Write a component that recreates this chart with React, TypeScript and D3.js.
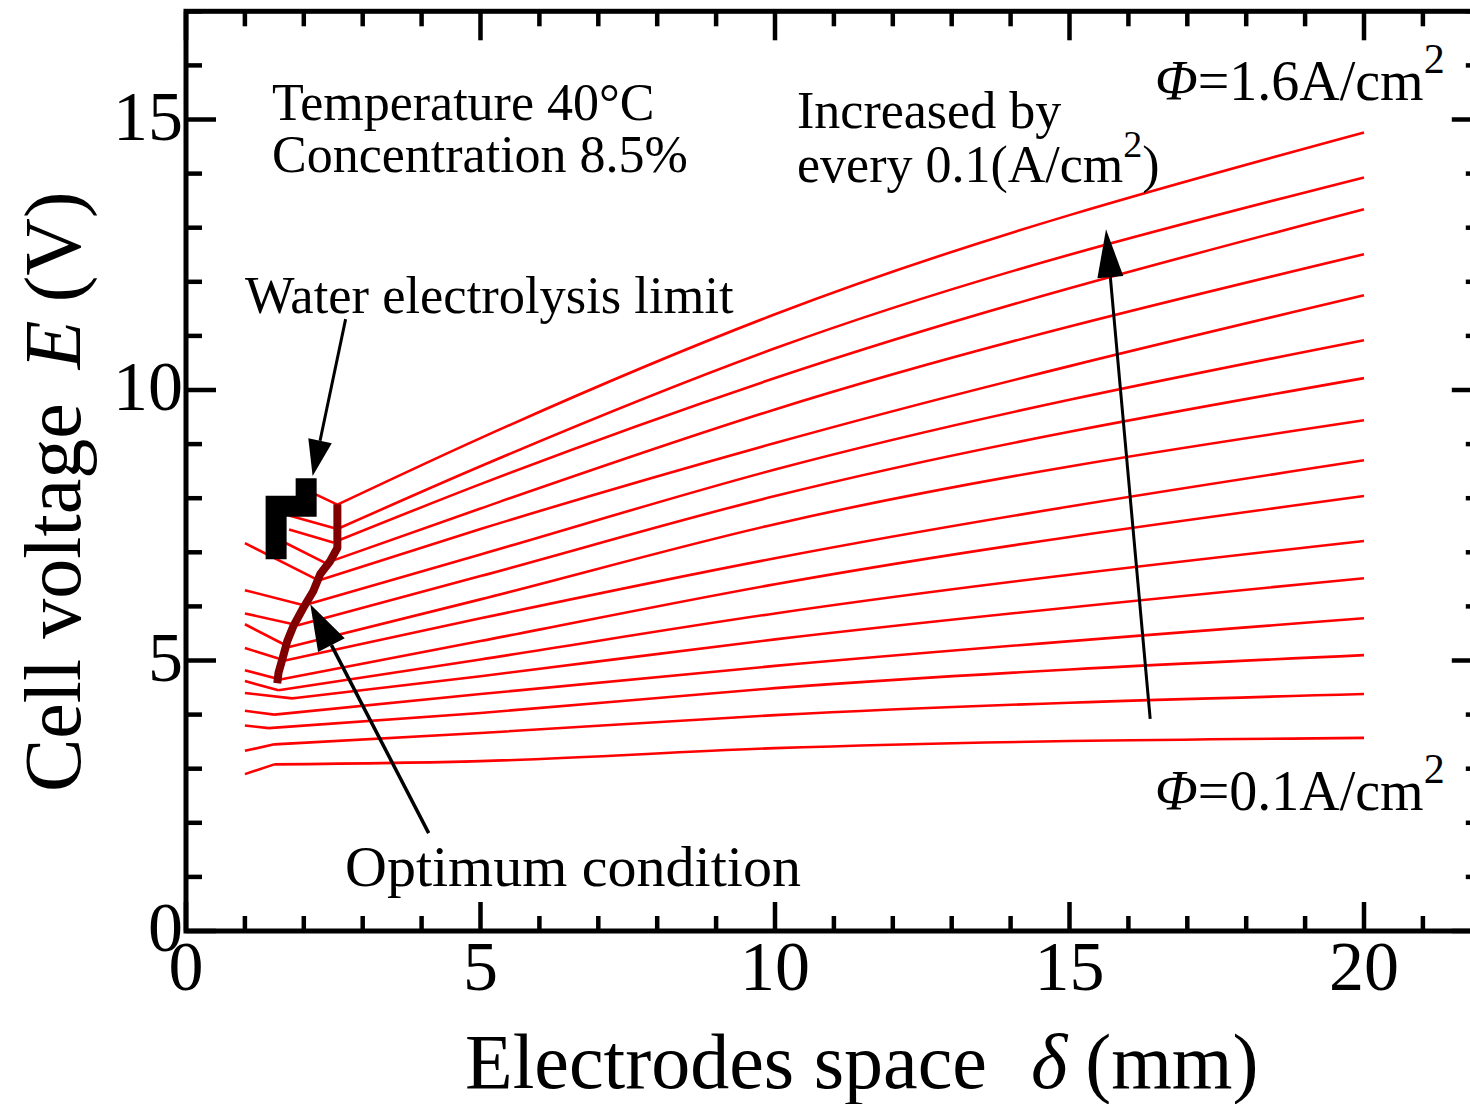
import React from "react";
import * as d3 from "d3";

const W = 1470;
const H = 1104;
const FONT = "'Liberation Serif', 'DejaVu Serif', serif";

// current density of every curve (A/cm2), top curve first
const currents = [1.6, 1.5, 1.4, 1.3, 1.2, 1.1, 1.0, 0.9, 0.8, 0.7, 0.6, 0.5, 0.4, 0.3, 0.2, 0.1];
// where each curve starts (mm, V) - upper ones are cut by the water electrolysis limit
const startX = [2.05, 1.75, 1.75, 1.55, 1, 1, 1, 1, 1, 1, 1, 1, 1, 1, 1, 1];
const startE = [8.15, 7.68, 7.42, 7.25, 7.17, 6.3, 5.87, 5.67, 5.23, 4.82, 4.62, 4.4, 4.07, 3.8, 3.33, 2.9];
// lowest point of each curve
const minX = [2.57, 2.57, 2.5, 2.37, 2.25, 2.0, 1.9, 1.75, 1.68, 1.6, 1.57, 1.8, 1.5, 1.4, 1.5, 1.5];
const minE = [7.88, 7.43, 7.18, 6.8, 6.48, 6.02, 5.65, 5.25, 5.0, 4.65, 4.45, 4.3, 4.0, 3.75, 3.45, 3.08];
// cell voltage read at 5, 10 and 20 mm
const e5 = [9.11, 8.59, 8.26, 7.81, 7.43, 6.96, 6.56, 6.13, 5.78, 5.36, 5.02, 4.71, 4.38, 4.03, 3.66, 3.14];
const e10 = [11.4, 10.77, 10.22, 9.64, 9.02, 8.53, 8.04, 7.52, 6.89, 6.41, 5.87, 5.39, 4.9, 4.49, 3.99, 3.38];
const e20 = [14.76, 13.93, 13.34, 12.51, 11.75, 10.92, 10.22, 9.44, 8.7, 8.04, 7.21, 6.52, 5.78, 5.1, 4.38, 3.57];

// optimum condition locus (dark red)
const optX = [2.57, 2.57, 2.45, 2.28, 2.16, 1.99, 1.82, 1.72, 1.64, 1.57, 1.55];
const optE = [7.89, 7.08, 6.84, 6.6, 6.28, 5.97, 5.63, 5.36, 5.04, 4.77, 4.58];

// water electrolysis limit (thick black step)
const limX = [2.04, 2.04, 1.53, 1.53];
const limE = [8.37, 7.85, 7.85, 6.87];

const xTicks = d3.range(0, 23, 1);
const yTicks = d3.range(0, 18, 1);
const xLabels = [0, 5, 10, 15, 20];
const yLabels = [0, 5, 10, 15];

const x = d3.scaleLinear().domain([0, 22]).range([186, 186 + 22 * 58.9]);
const y = d3.scaleLinear().domain([0, 17]).range([931, 931 - 17 * 54.1]);

const line = d3
  .line<[number, number]>()
  .x((d) => x(d[0]))
  .y((d) => y(d[1]));
const smooth = d3
  .line<[number, number]>()
  .x((d) => x(d[0]))
  .y((d) => y(d[1]))
  .curve(d3.curveMonotoneX);

function Arrow({ from, to, len, wid, sw }: { from: [number, number]; to: [number, number]; len: number; wid: number; sw: number }) {
  const x1 = x(from[0]), y1 = y(from[1]);
  const x2 = x(to[0]), y2 = y(to[1]);
  const a = Math.atan2(y2 - y1, x2 - x1);
  const bx = x2 - len * Math.cos(a), by = y2 - len * Math.sin(a);
  const nx = -Math.sin(a) * wid / 2, ny = Math.cos(a) * wid / 2;
  return (
    <g>
      <line x1={x1} y1={y1} x2={bx} y2={by} stroke="#000" strokeWidth={sw} />
      <polygon points={`${x2},${y2} ${bx + nx},${by + ny} ${bx - nx},${by - ny}`} fill="#000" />
    </g>
  );
}

export default function App() {
  const curves = currents.map((c, i) => {
    const head: [number, number][] = [
      [startX[i], startE[i]],
      [minX[i], minE[i]],
    ];
    const tail: [number, number][] = [
      [minX[i], minE[i]],
      [5, e5[i]],
      [10, e10[i]],
      [20, e20[i]],
    ];
    return { c, d: (line(head) || "") + (smooth(tail) || "") };
  });
  const optPts = optX.map((v, i) => [v, optE[i]] as [number, number]);
  const limPts = limX.map((v, i) => [v, limE[i]] as [number, number]);
  const left = x(0), right = x(22), bottom = y(0), top = y(17);

  return (
    <svg width={W} height={H} style={{ position: "absolute", left: 0, top: 0, background: "#fff" }} fontFamily={FONT}>
      {curves.map((cv) => (
        <path key={cv.c} d={cv.d} fill="none" stroke="#ff0000" strokeWidth={2.6} />
      ))}
      <path d={line(optPts) || ""} fill="none" stroke="#800000" strokeWidth={8} strokeLinejoin="round" />
      <path d={line(limPts) || ""} fill="none" stroke="#000" strokeWidth={21} strokeLinejoin="miter" />

      <Arrow from={[16.37, 3.92]} to={[15.62, 12.97]} len={48} wid={26} sw={3} />
      <Arrow from={[2.71, 11.31]} to={[2.15, 8.41]} len={36} wid={24} sw={3} />
      <Arrow from={[4.12, 1.81]} to={[2.11, 6.04]} len={46} wid={30} sw={3.5} />

      {/* frame */}
      <rect x={left} y={top} width={right - left} height={bottom - top} fill="none" stroke="#000" strokeWidth={5} />
      {xTicks.map((t) => {
        const l = t % 5 === 0 ? 29 : 15;
        return (
          <g key={"x" + t} stroke="#000" strokeWidth={4.5}>
            <line x1={x(t)} x2={x(t)} y1={bottom} y2={bottom - l} />
            <line x1={x(t)} x2={x(t)} y1={top} y2={top + l} />
          </g>
        );
      })}
      {yTicks.map((t) => {
        const l = t % 5 === 0 ? 30 : 16;
        return (
          <g key={"y" + t} stroke="#000" strokeWidth={4.5}>
            <line x1={left} x2={left + l} y1={y(t)} y2={y(t)} />
            <line x1={right} x2={right - l} y1={y(t)} y2={y(t)} />
          </g>
        );
      })}
      {xLabels.map((t) => (
        <text key={"xl" + t} x={x(t)} y={990} fontSize={70} textAnchor="middle">
          {t}
        </text>
      ))}
      {yLabels.map((t) => (
        <text key={"yl" + t} x={183} y={y(t) + 20} fontSize={70} textAnchor="end">
          {t}
        </text>
      ))}

      {/* axis titles */}
      <text x={465} y={1088} fontSize={78}>
        Electrodes space
        <tspan dx={44} fontStyle="italic">δ</tspan>
        <tspan dx={18}>(mm)</tspan>
      </text>
      <text transform="translate(80,792) rotate(-90)" fontSize={80}>
        Cell voltage
        <tspan dx={34} fontStyle="italic">E</tspan>
        <tspan dx={18}>(V)</tspan>
      </text>

      {/* annotations */}
      <text x={272} y={120} fontSize={52}>Temperature 40°C</text>
      <text x={272} y={172} fontSize={52}>Concentration 8.5%</text>
      <text x={797} y={128} fontSize={52}>Increased by</text>
      <text x={797} y={182} fontSize={52}>
        every 0.1(A/cm<tspan dy={-25} fontSize={38}>2</tspan>
        <tspan dy={25}>)</tspan>
      </text>
      <text x={1155} y={100} fontSize={56}>
        <tspan fontStyle="italic">Φ</tspan>=1.6A/cm<tspan dy={-27} fontSize={42}>2</tspan>
      </text>
      <text x={1155} y={810} fontSize={56}>
        <tspan fontStyle="italic">Φ</tspan>=0.1A/cm<tspan dy={-27} fontSize={42}>2</tspan>
      </text>
      <text x={245} y={313} fontSize={52.5}>Water electrolysis limit</text>
      <text x={345} y={886} fontSize={58}>Optimum condition</text>
    </svg>
  );
}
